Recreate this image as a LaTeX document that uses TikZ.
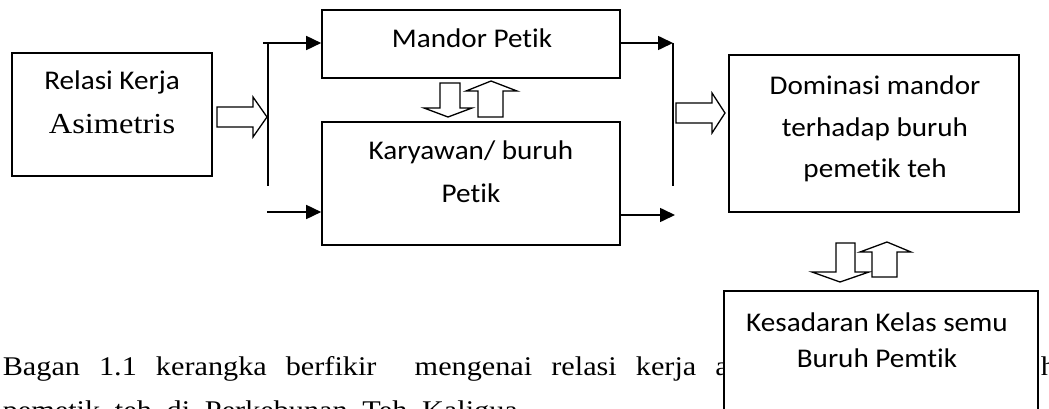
\documentclass[tikz,border=0pt]{standalone}
\usepackage{fontspec}
\setmainfont[FakeStretch=1.12]{Liberation Serif}
\newfontfamily\calibri[FakeStretch=1.08,Ligatures=NoCommon]{Carlito}
\usetikzlibrary{arrows.meta}

\begin{document}
\begin{tikzpicture}[x=1pt,y=-1pt,line width=1.6pt]
  \tikzstyle{box}=[draw, rectangle, inner sep=0pt]
  \tikzstyle{word}=[inner sep=0pt, anchor=base, font={\calibri\fontsize{27}{33}\selectfont}]
  \tikzstyle{serif}=[inner sep=0pt, anchor=base west, font={\fontsize{27}{33}\selectfont}]
  \tikzstyle{link}=[-{Triangle[length=15pt,width=14pt]}]
  \tikzstyle{hollow}=[draw, fill=white, line width=1.3pt, line join=miter]
  \useasboundingbox (0,0) rectangle (1049,409);
  \clip (0,0) rectangle (1049,409);
  % boxes
  \node[box, minimum width=200pt, minimum height=123pt] (relasi) at (112,114.5) {};
  \node[box, minimum width=298pt, minimum height=68pt] (mandor) at (471,44) {};
  \node[box, minimum width=298pt, minimum height=123pt] (karyawan) at (471,183.5) {};
  \node[box, minimum width=290pt, minimum height=157pt] (dominasi) at (874,133.5) {};
  % texts in the boxes
  \node[word] (relasi_1) at (112,90) {Relasi Kerja};
  \node[word, font={\fontsize{29}{35}\selectfont}] (relasi_2) at (112,133) {Asimetris};
  \node[word] (mandor_1) at (472,48) {Mandor Petik};
  \node[word] (karyawan_1) at (471,160) {Karyawan/ buruh};
  \node[word] (karyawan_2) at (471,202) {Petik};
  \node[word] (dominasi_1) at (875,95) {Dominasi mandor};
  \node[word] (dominasi_2) at (875,137) {terhadap buruh};
  \node[word] (dominasi_3) at (875,177) {pemetik teh};
  % split and join lines
  \coordinate (in_top) at (263,43);
  \coordinate (in_bot) at (267,212);
  \coordinate (split_l) at (268,43);
  \coordinate (split_l_end) at (268,186);
  \coordinate (join_r) at (673,43);
  \coordinate (join_r_end) at (673,186);
  \coordinate (out_bot) at (675,215);
  \draw (split_l) -- (split_l_end);
  \draw[link] (in_top) -- (in_top -| mandor.west);
  \draw[link] (in_bot) -- (in_bot -| karyawan.west);
  \draw[link] (mandor.east |- join_r) -- (join_r);
  \draw (join_r) -- (join_r_end);
  \draw[link] (karyawan.east |- out_bot) -- (out_bot);
  % block arrows
  \draw[hollow] (217,107) -- (253,107) -- (253,97) -- (267,117) -- (253,137) -- (253,127) -- (217,127) -- cycle;
  \draw[hollow] (676,103) -- (712,103) -- (712,93) -- (725,113) -- (712,133) -- (712,123) -- (676,123) -- cycle;
  \draw[hollow] (440,83) -- (460,83) -- (460,108) -- (472,108) -- (448,117) -- (424,108) -- (440,108) -- cycle;
  \draw[hollow] (478,117) -- (503,117) -- (503,91) -- (517,91) -- (491,81) -- (466,91) -- (478,91) -- cycle;
  \draw[hollow] (836,243) -- (855,243) -- (855,272) -- (869,272) -- (840,282) -- (812,272) -- (836,272) -- cycle;
  \draw[hollow] (872,277) -- (897,277) -- (897,252) -- (911,252) -- (887,242) -- (860,252) -- (872,252) -- cycle;
  % caption under the chart
  \node[serif] (caption_1) at (2,375) {\makebox[726pt][s]{Bagan 1.1 kerangka berfikir\ \ mengenai relasi kerja a}};
  \node[serif] (caption_2) at (2,419) {\makebox[515pt][s]{pemetik teh di Perkebunan Teh Kaligua}};
  \node[serif] (caption_h) at (1040,375) {h};
  % last box lies over the caption
  \node[box, fill=white, minimum width=314pt, minimum height=169pt] (kesadaran) at (881,375.5) {};
  \node[word] (kesadaran_1) at (877,331) {Kesadaran Kelas semu};
  \node[word] (kesadaran_2) at (877,367) {Buruh Pemtik};
\end{tikzpicture}
\end{document}
